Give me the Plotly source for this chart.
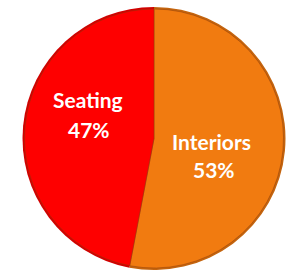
import plotly.graph_objects as go

labels = ["Interiors", "Seating"]
values = [53, 47]
colors = ["#F17B10", "#FE0000"]
rim_colors = ["#C4640E", "#D20000"]

total = sum(values)
pcts = [round(v / total * 100) for v in values]

cx, cy, r = 154, 138.5, 131.5
W, H = 290, 272
rim = 2

def dom(rad):
    return dict(x=[(cx - rad) / W, (cx + rad) / W],
                y=[(H - cy - rad) / H, (H - cy + rad) / H])

common = dict(labels=labels, values=values, sort=False, direction="clockwise",
              rotation=0, textinfo="none", showlegend=False, hoverinfo="label+percent")

fig = go.Figure()
fig.add_trace(go.Pie(marker=dict(colors=rim_colors, line=dict(width=0)),
                     domain=dom(r), **common))
fig.add_trace(go.Pie(marker=dict(colors=colors, line=dict(color="rgba(140,60,10,0.45)", width=1)),
                     domain=dom(r - rim), **common))

# label positions (page pixels, layout only)
label_pos = {"Interiors": [(211, 141.5), (213.5, 169.5)],
             "Seating": [(88, 99.5), (88.5, 129.5)]}
font = dict(family="Lato", size=21, color="white", weight="bold")
for lab, p in zip(labels, pcts):
    (x1, y1), (x2, y2) = label_pos[lab]
    fig.add_annotation(text=lab, x=x1 / W, y=1 - y1 / H, xref="paper", yref="paper",
                       showarrow=False, font=font, xanchor="center", yanchor="middle")
    fig.add_annotation(text=f"{p}%", x=x2 / W, y=1 - y2 / H, xref="paper", yref="paper",
                       showarrow=False, font=font, xanchor="center", yanchor="middle")

fig.update_layout(
    width=W, height=H,
    margin=dict(l=0, r=0, t=0, b=0),
    paper_bgcolor="white",
    plot_bgcolor="white",
)
fig.write_html("out.html", config={"displayModeBar": False},
               post_script="document.body.style.margin='0px';")
